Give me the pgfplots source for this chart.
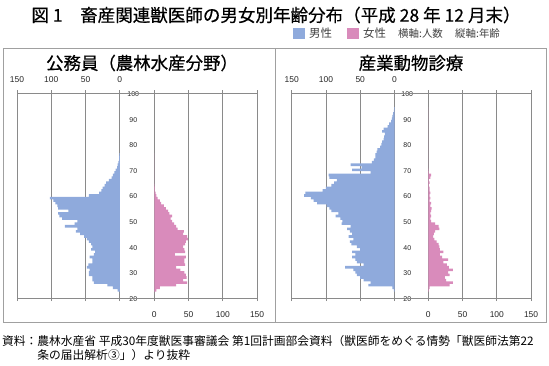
\documentclass[border=0pt]{standalone}
\usepackage{fontspec}
\setmainfont{Liberation Sans}
\newfontfamily\jp{Noto Sans CJK JP}
\newfontfamily\jpb[FakeBold=0.6]{Noto Sans CJK JP}
\usepackage{pgfplots}
\pgfplotsset{compat=1.18}
\usepackage{pgfplotstable}

\definecolor{male}{RGB}{143,170,220}
\definecolor{female}{RGB}{217,139,187}
\definecolor{gridc}{RGB}{138,138,138}
\definecolor{framec}{RGB}{160,160,160}

% left panel: 公務員（農林水産分野）
\pgfplotstableread{
age m f
22 0 0
23 3 3
24 10 8
25 18 32
26 38 48
27 40 42
28 40 47
29 45 46
30 45 44
31 44 38
32 48 32
33 46 45
34 40 44
35 40 44
36 44 46
37 38 30
38 36 45
39 42 44
40 40 42
41 42 45
42 45 46
43 48 49
44 52 48
45 58 42
46 64 43
47 62 34
48 80 32
49 66 29
50 62 26
51 84 24
52 88 26
53 90 22
54 75 20
55 90 17
56 91 14
57 94 10
58 97 8
59 102 5
60 45 3
61 30 2
62 27 1
63 25 1
64 22 0.5
65 20 0
66 16 0
67 12 0
68 10 0
69 8 0
70 6 0
71 4 0
72 3 0
73 2 0
74 1 0
75 1 0
76 0.5 0
}\kou

% right panel: 産業動物診療
\pgfplotstableread{
age m f
23 1 1
24 3 2
25 38 31
26 35 36
27 45 26
28 50 24
29 55 31
30 57 29
31 60 36
32 72 30
33 45 27
34 55 22
35 57 29
36 62 20
37 57 17
38 62 22
39 50 17
40 55 16
41 63 15
42 65 12
43 60 9
44 67 7
45 62 8
46 65 10
47 69 16
48 64 15
49 77 10
50 76 4
51 79 3
52 86 4
53 82 3
54 92 4
55 95 5
56 99 3
57 113 4
58 118 2
59 122 3
60 132 2
61 130 3
62 105 2
63 100 2
64 92 1
65 88 2
66 84 1
67 95 3
68 96 4
69 35 1
70 62 0.5
71 48 0
72 64 0
73 33 0
74 30 0
75 28 0
76 28 0
77 26 0
78 25 0
79 21 0
80 19 0
81 18 0
82 16 0
83 15 0
84 14 0
85 18 0
86 16 0
87 10 0
88 8 0
89 5 0
90 4 0
91 3 0
92 2 0
93 1 0
94 0.5 0
}\san

\pgfplotsset{
  pyr/.style={
    scale only axis, width=102.8bp, height=205bp,
    anchor=south west,
    xmin=0, xmax=150, ymin=20, ymax=100,
    xtick={0,50,100,150}, ytick=\empty,
    xmajorgrids, grid style={gridc, line width=0.7pt},
    axis line style={gridc, line width=0.7pt},
    tick style={gridc, line width=0.7pt},
    tick align=outside, major tick length=3bp,
    /pgf/number format/assume math mode=true,
  },
  malex/.style={pyr, x dir=reverse, xticklabel pos=upper,
    xticklabel style={font=\fontsize{8.5}{10}\selectfont, text=black!85, yshift=4bp}},
  femalex/.style={pyr, xticklabel pos=lower,
    xticklabel style={font=\fontsize{8.5}{10}\selectfont, text=black!85, yshift=-7bp},
    ytick={20,30,...,100}, ytick style={draw=none},
    yticklabel style={font=\fontsize{7}{8}\selectfont, text=black!85, anchor=center, xshift=-18bp, yshift=-1bp},
  },
  barm/.style={xbar, bar width=1, bar shift=0pt, draw=none, fill=male},
  barf/.style={xbar, bar width=1, bar shift=0pt, draw=none, fill=female},
}

\begin{document}
\begin{tikzpicture}
\useasboundingbox (0,0) rectangle (549bp,-366bp);

% frames
\draw[framec, line width=0.7pt] (3bp,-48bp) rectangle (275bp,-322bp);
\draw[framec, line width=0.7pt] (275bp,-48bp) rectangle (546bp,-322bp);

% title
\node[font=\jpb\fontsize{17.6}{19}\selectfont] at (276bp,-15bp) {図 1　畜産関連獣医師の男女別年齢分布（平成 28 年 12 月末）};

% legend
\fill[male] (293bp,-28bp) rectangle (305bp,-39bp);
\node[anchor=west, font=\jp\fontsize{11.5}{12}\selectfont, text=black!75, inner sep=0pt] at (309bp,-33.5bp) {男性};
\fill[female] (347bp,-28bp) rectangle (359bp,-39bp);
\node[anchor=west, font=\jp\fontsize{11.5}{12}\selectfont, text=black!75, inner sep=0pt] at (363bp,-33.5bp) {女性};
\node[anchor=west, font=\jp\fontsize{10.5}{11}\selectfont, text=black!75, inner sep=0pt] at (398bp,-33.5bp) {横軸:人数};
\node[anchor=west, font=\jp\fontsize{10.5}{11}\selectfont, text=black!75, inner sep=0pt] at (455bp,-33.5bp) {縦軸:年齢};

% panel titles
\node[font=\jpb\fontsize{17.5}{19}\selectfont] at (142bp,-63bp) {公務員（農林水産分野）};
\node[font=\jpb\fontsize{17.5}{19}\selectfont] at (411bp,-63bp) {産業動物診療};

% left panel
\begin{axis}[malex, at={(17bp,-298bp)}]
\addplot[barm] table[x=m, y=age] {\kou};
\end{axis}
\begin{axis}[femalex, at={(154.3bp,-298bp)}]
\addplot[barf] table[x=f, y=age] {\kou};
\end{axis}
\draw[gridc, line width=0.7pt] (119.8bp,-93bp) -- (154.3bp,-93bp);
\draw[gridc, line width=0.7pt] (119.8bp,-298bp) -- (154.3bp,-298bp);

% right panel
\begin{axis}[malex, at={(291.7bp,-298bp)}]
\addplot[barm] table[x=m, y=age] {\san};
\end{axis}
\begin{axis}[femalex, at={(428.3bp,-298bp)}]
\addplot[barf] table[x=f, y=age] {\san};
\end{axis}
\draw[gridc, line width=0.7pt] (394.5bp,-93bp) -- (428.3bp,-93bp);
\draw[gridc, line width=0.7pt] (394.5bp,-298bp) -- (428.3bp,-298bp);

% source
\node[anchor=north west, align=left, font=\jp\fontsize{11.8}{14}\selectfont, inner sep=0pt] at (2bp,-335bp)
{資料：農林水産省 平成30年度獣医事審議会 第1回計画部会資料（獣医師をめぐる情勢「獣医師法第22\\
\phantom{資料：}条の届出解析③」）より抜粋};
\end{tikzpicture}
\end{document}
